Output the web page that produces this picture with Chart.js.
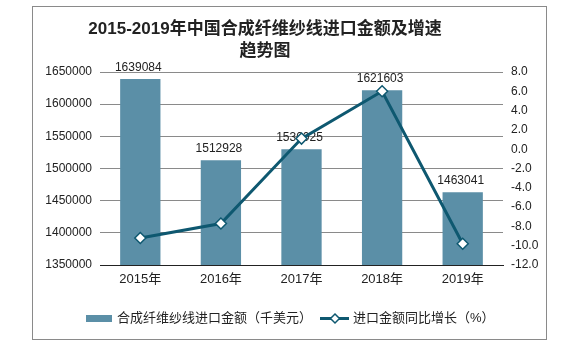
<!DOCTYPE html>
<html>
<head>
<meta charset="utf-8">
<script src="https://cdn.jsdelivr.net/npm/chart.js@4/dist/chart.umd.min.js"></script>
<style>
  html, body { margin: 0; padding: 0; background: #fff; }
  #wrap { width: 569px; height: 345px; }
</style>
</head>
<body>
<div id="wrap"><canvas id="c" width="569" height="345"></canvas></div>
<script>
// Import value of synthetic fibre yarn (thousand USD) and year-on-year growth (%)
const titleLines = ['2015-2019年中国合成纤维纱线进口金额及增速', '趋势图'];
const years = ['2015年', '2016年', '2017年', '2018年', '2019年'];
const importValue = [1639084, 1512928, 1530025, 1621603, 1463041];
const growthRate = [-9.2, -7.7, 1.1, 6.0, -9.8];
const valueLabel = '合成纤维纱线进口金额（千美元）';
const growthLabel = '进口金额同比增长（%）';

const FONT = '"Liberation Sans", Arial, "Noto Sans CJK SC", sans-serif';
const BAR_COLOR = '#5b8fa7';
const LINE_COLOR = '#0e5870';
const TEXT_COLOR = '#222';

// white page, outer frame and the two-line heading
const framePlugin = {
  id: 'frame',
  beforeDraw(chart) {
    const ctx = chart.ctx;
    ctx.save();
    ctx.fillStyle = '#fff';
    ctx.fillRect(0, 0, chart.width, chart.height);
    ctx.strokeStyle = '#8a8a8a';
    ctx.lineWidth = 1;
    ctx.strokeRect(32.5, 6.5, 514, 333);

    ctx.font = 'bold 17px ' + FONT;
    ctx.fillStyle = TEXT_COLOR;
    ctx.textAlign = 'center';
    ctx.textBaseline = 'middle';
    titleLines.forEach((line, i) => ctx.fillText(line, 265, 29.5 + i * 22));
    ctx.restore();
  }
};

// value labels above the bars (drawn right after the bars, so the line passes over them)
const barLabelPlugin = {
  id: 'barLabels',
  afterDatasetDraw(chart, args) {
    if (args.index !== 0) return;
    const ctx = chart.ctx;
    const meta = chart.getDatasetMeta(0);
    ctx.save();
    ctx.font = '12px ' + FONT;
    ctx.fillStyle = TEXT_COLOR;
    ctx.textAlign = 'center';
    ctx.textBaseline = 'alphabetic';
    meta.data.forEach((bar, i) => {
      ctx.fillText(String(chart.data.datasets[0].data[i]), bar.x - 2, bar.y - 8);
    });
    ctx.restore();
  }
};

// bottom legend: bar swatch + line-with-diamond swatch
const legendPlugin = {
  id: 'customLegend',
  afterDraw(chart) {
    const ctx = chart.ctx;
    const y = 318.5;
    ctx.save();
    ctx.font = '13px ' + FONT;
    ctx.textBaseline = 'middle';
    ctx.textAlign = 'left';

    ctx.fillStyle = BAR_COLOR;
    ctx.fillRect(86, 315, 26, 7);
    ctx.fillStyle = TEXT_COLOR;
    ctx.fillText(chart.data.datasets[0].label, 117, y);

    ctx.strokeStyle = LINE_COLOR;
    ctx.lineWidth = 3;
    ctx.beginPath();
    ctx.moveTo(320, y);
    ctx.lineTo(349, y);
    ctx.stroke();
    ctx.fillStyle = '#fff';
    ctx.lineWidth = 1.5;
    ctx.beginPath();
    ctx.moveTo(335, y - 4.5);
    ctx.lineTo(339.5, y);
    ctx.lineTo(335, y + 4.5);
    ctx.lineTo(330.5, y);
    ctx.closePath();
    ctx.fill();
    ctx.stroke();

    ctx.fillStyle = TEXT_COLOR;
    ctx.fillText(chart.data.datasets[1].label, 353, y);
    ctx.restore();
  }
};

new Chart(document.getElementById('c'), {
  data: {
    labels: years,
    datasets: [
      {
        type: 'bar',
        label: valueLabel,
        data: importValue,
        backgroundColor: BAR_COLOR,
        yAxisID: 'y',
        barPercentage: 0.5,
        categoryPercentage: 1.0,
        order: 2
      },
      {
        type: 'line',
        label: growthLabel,
        data: growthRate,
        yAxisID: 'y1',
        borderColor: LINE_COLOR,
        borderWidth: 3,
        tension: 0,
        pointStyle: 'rectRot',
        pointRadius: 5.5,
        pointHoverRadius: 5.5,
        pointBackgroundColor: '#fff',
        pointBorderColor: LINE_COLOR,
        pointBorderWidth: 1.5,
        order: 1
      }
    ]
  },
  options: {
    responsive: false,
    devicePixelRatio: 1,
    animation: false,
    layout: { padding: { top: 72, bottom: 50, left: 0, right: 0 } },
    plugins: {
      legend: { display: false },
      tooltip: { enabled: false },
      title: { display: false }
    },
    scales: {
      x: {
        grid: { display: false, drawTicks: false },
        border: { display: true, color: '#222', width: 1 },
        ticks: { color: TEXT_COLOR, font: { family: FONT, size: 13 }, padding: 7 },
        afterFit(scale) { scale.height = 30; }
      },
      y: {
        position: 'left',
        min: 1350000,
        max: 1650000,
        ticks: {
          stepSize: 50000, color: TEXT_COLOR, font: { family: FONT, size: 12 }, padding: 8,
          callback: v => String(v)
        },
        grid: { color: '#8a8a8a', lineWidth: 1, drawTicks: false },
        border: { display: false },
        afterFit(scale) { scale.width = 100; }
      },
      y1: {
        position: 'right',
        min: -12,
        max: 8,
        ticks: {
          stepSize: 2, color: TEXT_COLOR, font: { family: FONT, size: 12 }, padding: 8,
          callback: v => v.toFixed(1)
        },
        grid: { display: false, drawTicks: false },
        border: { display: false },
        afterFit(scale) { scale.width = 66; }
      }
    }
  },
  plugins: [framePlugin, barLabelPlugin, legendPlugin]
});
</script>
</body>
</html>
